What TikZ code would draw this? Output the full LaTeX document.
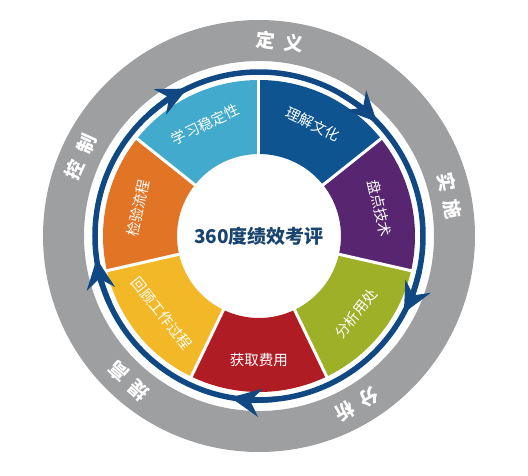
\documentclass[tikz,border=0pt]{standalone}
\usepackage{fontspec}
\setmainfont{Noto Sans CJK SC}
\usetikzlibrary{arrows.meta}
\definecolor{segsky}{HTML}{42AACC}
\definecolor{segnavy}{HTML}{0E5490}
\definecolor{segplum}{HTML}{582670}
\definecolor{segolive}{HTML}{9EB028}
\definecolor{segred}{HTML}{AF1C24}
\definecolor{segyellow}{HTML}{F3B828}
\definecolor{segorange}{HTML}{E27426}
\definecolor{ringgray}{HTML}{9E9FA1}
\definecolor{ringblue}{HTML}{104884}
\definecolor{hubtext}{HTML}{19446E}
\tikzset{
  seglabel/.style={text=white, inner sep=0pt, font=\fontsize{14.5}{14.5}\selectfont},
  ringlabel/.style={text=white, inner sep=0pt, font=\bfseries\fontsize{19}{19}\selectfont},
  septick/.style={white, line width=3pt},
  flowtip/.style={ringblue, line width=5.5pt, -{Stealth[length=30pt,width=28pt,inset=10pt]}},
}
\begin{document}
\begin{tikzpicture}[x=1pt,y=1pt]
\useasboundingbox (-259,-239) rectangle (269,236);
\fill [ringgray, even odd rule] (0,0) circle (216pt) (0,0) circle (175pt);
\draw [ringblue, line width=5.5pt] (0,0) circle (164pt);
\fill [segnavy] (90:82pt) arc[start angle=90, end angle=38.57, radius=82pt] -- (38.57:156pt) arc[start angle=38.57, end angle=90, radius=156pt] -- cycle;
\fill [segplum] (38.57:82pt) arc[start angle=38.57, end angle=-12.86, radius=82pt] -- (-12.86:156pt) arc[start angle=-12.86, end angle=38.57, radius=156pt] -- cycle;
\fill [segolive] (-12.86:82pt) arc[start angle=-12.86, end angle=-64.29, radius=82pt] -- (-64.29:156pt) arc[start angle=-64.29, end angle=-12.86, radius=156pt] -- cycle;
\fill [segred] (-64.29:82pt) arc[start angle=-64.29, end angle=-115.71, radius=82pt] -- (-115.71:156pt) arc[start angle=-115.71, end angle=-64.29, radius=156pt] -- cycle;
\fill [segyellow] (-115.71:82pt) arc[start angle=-115.71, end angle=-167.14, radius=82pt] -- (-167.14:156pt) arc[start angle=-167.14, end angle=-115.71, radius=156pt] -- cycle;
\fill [segorange] (192.86:82pt) arc[start angle=192.86, end angle=141.43, radius=82pt] -- (141.43:156pt) arc[start angle=141.43, end angle=192.86, radius=156pt] -- cycle;
\fill [segsky] (141.43:82pt) arc[start angle=141.43, end angle=90, radius=82pt] -- (90:156pt) arc[start angle=90, end angle=141.43, radius=156pt] -- cycle;
\draw [septick] (90:80pt) -- (90:158pt);
\draw [septick] (38.57:80pt) -- (38.57:158pt);
\draw [septick] (-12.86:80pt) -- (-12.86:158pt);
\draw [septick] (-64.29:80pt) -- (-64.29:158pt);
\draw [septick] (-115.71:80pt) -- (-115.71:158pt);
\draw [septick] (-167.14:80pt) -- (-167.14:158pt);
\draw [septick] (141.43:80pt) -- (141.43:158pt);
\node (hub) at (0,0) [text=hubtext, font=\bfseries\fontsize{19}{19}\selectfont] {360度绩效考评};
\node (culture) at (64.29:124pt) [seglabel, rotate=-25.71] {理解文化};
\node (tech) at (12.86:124pt) [seglabel, rotate=-77.14] {盘点技术};
\node (usage) at (-38.57:124pt) [seglabel, rotate=51.43] {分析用处};
\node (cost) at (-90:124pt) [seglabel] {获取费用};
\node (review) at (-141.43:124pt) [seglabel, rotate=-51.43] {回顾工作过程};
\node (check) at (167.14:124pt) [seglabel, rotate=77.14] {检验流程};
\node (stable) at (115.71:124pt) [seglabel, rotate=25.71] {学习稳定性};
\node (define) at (84:195pt) [ringlabel, rotate=-6] {定\hspace{9pt}义};
\node (apply) at (12:195pt) [ringlabel, rotate=-78] {实\hspace{9pt}施};
\node (analyse) at (-60:195pt) [ringlabel, rotate=-150] {分\hspace{9pt}析};
\node (improve) at (-132:195pt) [ringlabel, rotate=138] {提\hspace{9pt}高};
\node (control) at (156:195pt) [ringlabel, rotate=66] {控\hspace{9pt}制};
\draw [flowtip] (132:164pt) arc[start angle=132, end angle=116, radius=164pt];
\draw [flowtip] (60:164pt) arc[start angle=60, end angle=44, radius=164pt];
\draw [flowtip] (-12:164pt) arc[start angle=-12, end angle=-28, radius=164pt];
\draw [flowtip] (-84:164pt) arc[start angle=-84, end angle=-100, radius=164pt];
\draw [flowtip] (-156:164pt) arc[start angle=-156, end angle=-172, radius=164pt];
\end{tikzpicture}
\end{document}
